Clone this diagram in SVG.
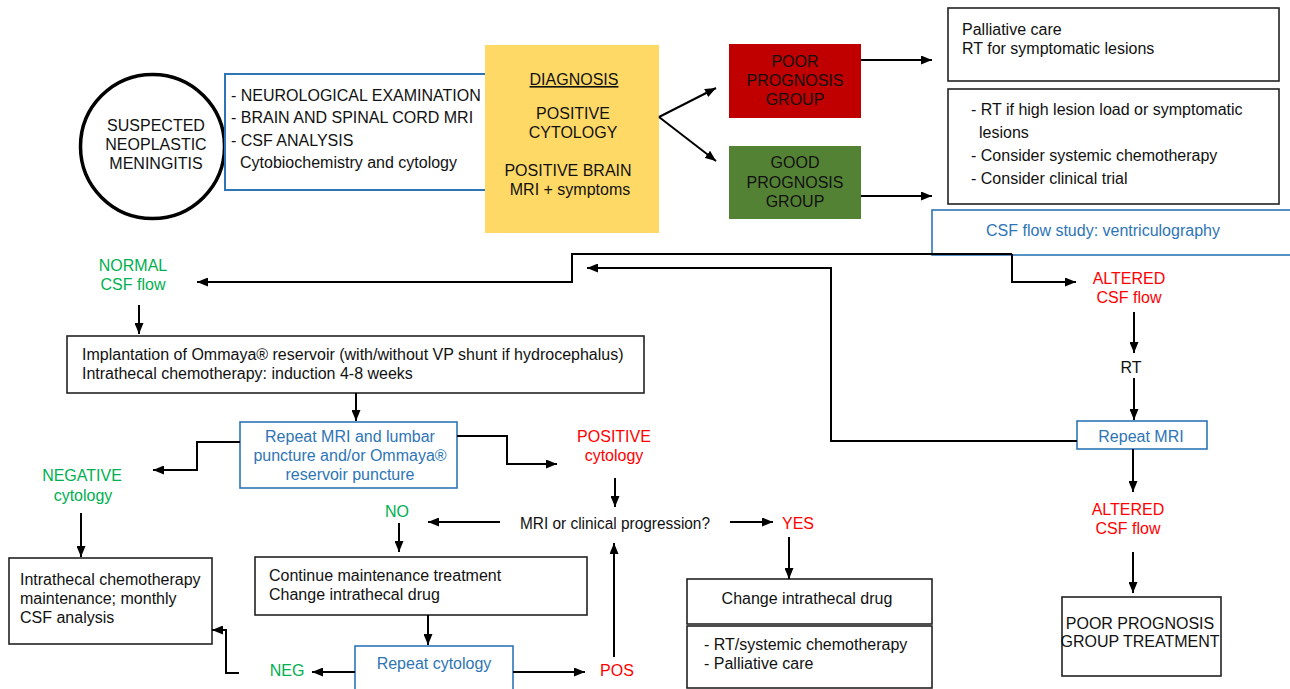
<svg xmlns="http://www.w3.org/2000/svg" width="1290" height="689" viewBox="0 0 1290 689">
<defs>
<marker id="ah" markerUnits="userSpaceOnUse" markerWidth="11" markerHeight="9" refX="11" refY="4.5" orient="auto">
<path d="M0,0 L11,4.5 L0,9 z" fill="#000"/>
</marker>
</defs>
<style>
text{font-family:"Liberation Sans",Arial,sans-serif;font-size:16px;fill:#111}
.c{text-anchor:middle}
.g{fill:#00B050}
.r{fill:#FF0000}
.b{fill:#2E75B6}
.box{fill:#fff;stroke:#222;stroke-width:1.6}
.bbox{fill:#fff;stroke:#2E75B6;stroke-width:1.6}
.ln{fill:none;stroke:#000;stroke-width:2}
.arr{fill:none;stroke:#000;stroke-width:2;marker-end:url(#ah)}
</style>
<rect width="1290" height="689" fill="#fff"/>

<g id="suspected">
<circle cx="152.5" cy="146.5" r="72" fill="#fff" stroke="#000" stroke-width="3.5"/>
<text class="c" x="156" y="131">SUSPECTED</text>
<text class="c" x="156" y="150">NEOPLASTIC</text>
<text class="c" x="156" y="169">MENINGITIS</text>
</g>

<g id="workup">
<rect x="225" y="74" width="266" height="116" fill="#fff" stroke="#2E75B6" stroke-width="2"/>
<text x="231" y="101">- NEUROLOGICAL EXAMINATION</text>
<text x="231" y="123">- BRAIN AND SPINAL CORD MRI</text>
<text x="231" y="146">- CSF ANALYSIS</text>
<text x="240" y="168">Cytobiochemistry and cytology</text>
</g>

<g id="diagnosis">
<rect x="485" y="45" width="174" height="188" fill="#FFD966"/>
<text class="c" x="574" y="85" text-decoration="underline">DIAGNOSIS </text>
<text class="c" x="573" y="119">POSITIVE</text>
<text class="c" x="573" y="138">CYTOLOGY</text>
<text class="c" x="568" y="176">POSITIVE BRAIN</text>
<text class="c" x="570" y="195">MRI + symptoms</text>
</g>

<g id="poor">
<rect x="729" y="44" width="132" height="74" fill="#C00000"/>
<text class="c" x="795" y="67">POOR</text>
<text class="c" x="795" y="86">PROGNOSIS</text>
<text class="c" x="795" y="105">GROUP</text>
</g>

<g id="good">
<rect x="729" y="146" width="132" height="73" fill="#548235"/>
<text class="c" x="795" y="168">GOOD</text>
<text class="c" x="795" y="188">PROGNOSIS</text>
<text class="c" x="795" y="207">GROUP</text>
</g>

<g id="poor-treat">
<rect class="box" x="948" y="8" width="331" height="73"/>
<text x="962" y="35">Palliative care</text>
<text x="962" y="54">RT for symptomatic lesions</text>
</g>

<g id="good-treat">
<rect class="box" x="948" y="89" width="331" height="115"/>
<text x="971" y="115">- RT if high lesion load or symptomatic</text>
<text x="979" y="138">lesions</text>
<text x="971" y="161">- Consider systemic chemotherapy</text>
<text x="971" y="184">- Consider clinical trial</text>
</g>

<g id="csf-study">
<rect x="932" y="210" width="362" height="45" fill="#fff" stroke="#2E75B6" stroke-width="1.6"/>
<text class="c b" x="1103" y="236">CSF flow study: ventriculography</text>
</g>

<g id="normal">
<text class="c g" x="133" y="271">NORMAL</text>
<text class="c g" x="133" y="290">CSF flow</text>
</g>

<g id="implant">
<rect class="box" x="67" y="336" width="577" height="57"/>
<text x="82" y="360">Implantation of Ommaya® reservoir (with/without VP shunt if hydrocephalus)</text>
<text x="82" y="379">Intrathecal chemotherapy: induction 4-8 weeks</text>
</g>

<g id="repeat-mri-lp">
<rect class="bbox" x="240" y="422" width="217" height="66"/>
<text class="c b" x="350" y="442">Repeat MRI and lumbar</text>
<text class="c b" x="350" y="461">puncture and/or Ommaya®</text>
<text class="c b" x="350" y="480">reservoir puncture</text>
</g>

<g id="negative">
<text class="c g" x="82" y="481">NEGATIVE</text>
<text class="c g" x="83" y="501">cytology</text>
</g>

<g id="positive">
<text class="c r" x="614" y="442">POSITIVE</text>
<text class="c r" x="614" y="461">cytology</text>
</g>

<g id="question">
<text x="520" y="529" textLength="190" lengthAdjust="spacingAndGlyphs">MRI or clinical progression?</text>
</g>

<g id="no">
<text class="c g" x="397" y="517">NO</text>
</g>

<g id="yes">
<text class="c r" x="798" y="529">YES</text>
</g>

<g id="maintenance">
<rect class="box" x="9" y="558" width="203" height="86"/>
<text x="20" y="585">Intrathecal chemotherapy</text>
<text x="20" y="604">maintenance; monthly</text>
<text x="20" y="623">CSF analysis</text>
</g>

<g id="continue">
<rect class="box" x="255" y="557" width="332" height="58"/>
<text x="269" y="581">Continue maintenance treatment</text>
<text x="269" y="600">Change intrathecal drug</text>
</g>

<g id="repeat-cyt">
<rect class="bbox" x="355" y="646" width="158" height="48"/>
<text class="c b" x="434" y="669">Repeat cytology</text>
</g>

<g id="neg">
<text class="c g" x="287" y="676">NEG</text>
</g>

<g id="pos">
<text class="c r" x="617" y="676">POS</text>
</g>

<g id="change-drug">
<rect class="box" x="687" y="579" width="245" height="45"/>
<text class="c" x="807" y="604">Change intrathecal drug</text>
</g>

<g id="rt-palliative">
<rect class="box" x="687" y="626" width="245" height="62"/>
<text x="704" y="650">- RT/systemic chemotherapy</text>
<text x="704" y="669">- Palliative care</text>
</g>

<g id="altered1">
<text class="c r" x="1129" y="284">ALTERED</text>
<text class="c r" x="1129" y="303">CSF flow</text>
</g>

<g id="rt">
<text class="c" x="1131" y="373">RT</text>
</g>

<g id="repeat-mri">
<rect class="bbox" x="1077" y="421" width="130" height="28"/>
<text class="c b" x="1141" y="442">Repeat MRI</text>
</g>

<g id="altered2">
<text class="c r" x="1128" y="515">ALTERED</text>
<text class="c r" x="1128" y="534">CSF flow</text>
</g>

<g id="poor-group-treatment">
<rect class="box" x="1062" y="597" width="159" height="79"/>
<text class="c" x="1140" y="629">POOR PROGNOSIS</text>
<text class="c" x="1140" y="647">GROUP TREATMENT</text>
</g>

<g id="connectors">
<path class="arr" d="M659,117 L716,88"/>
<path class="arr" d="M659,117 L716,161"/>
<path class="arr" d="M861,60 L932,60"/>
<path class="arr" d="M861,196 L932,196"/>
<path class="arr" d="M1012,254 L572,254 L572,282 L197,282"/>
<path class="arr" d="M1012,254 L1012,282 L1076,282"/>
<path class="arr" d="M1077,441 L831,441 L831,268 L587,268"/>
<path class="arr" d="M139,305 L139,334"/>
<path class="arr" d="M356,393 L356,421"/>
<path class="arr" d="M240,442 L197,442 L197,470 L153,470"/>
<path class="arr" d="M457,436 L507,436 L507,464 L557,464"/>
<path class="arr" d="M615,478 L615,507"/>
<path class="arr" d="M500,522 L428,522"/>
<path class="arr" d="M399,523 L399,552"/>
<path class="arr" d="M730,522 L773,522"/>
<path class="arr" d="M789,537 L789,579"/>
<path class="arr" d="M81,513 L81,557"/>
<path class="arr" d="M428,615 L428,645"/>
<path class="arr" d="M355,672 L312,672"/>
<path class="arr" d="M239,673 L226,673 L226,630 L212,630"/>
<path class="arr" d="M513,672 L585,672"/>
<path class="arr" d="M614,657 L614,543"/>
<path class="arr" d="M1134,312 L1134,353"/>
<path class="arr" d="M1134,378 L1134,420"/>
<path class="arr" d="M1133,449 L1133,492"/>
<path class="arr" d="M1133,552 L1133,593"/>
</g>
</svg>
